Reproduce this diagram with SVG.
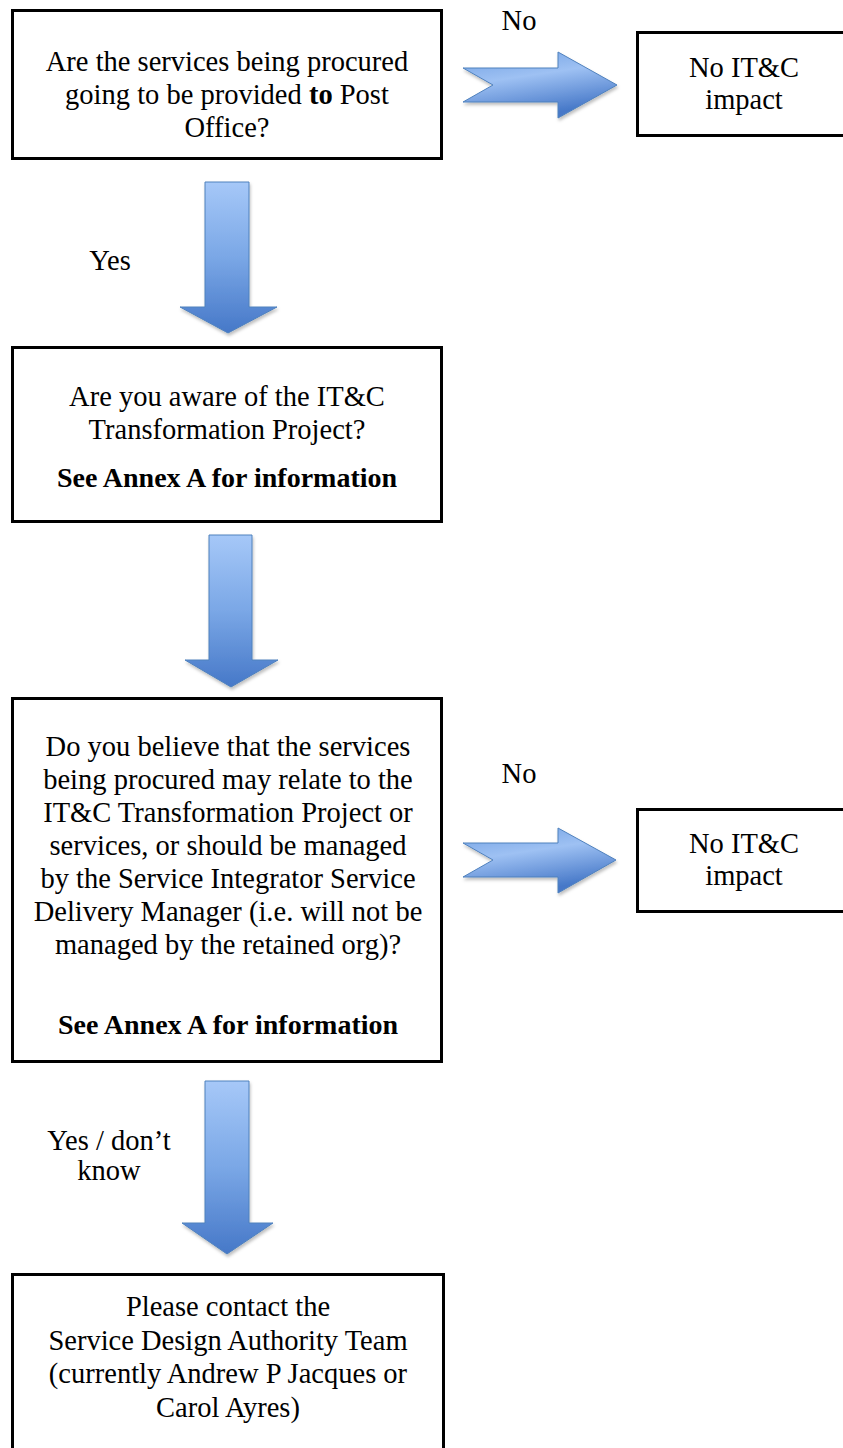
<svg xmlns="http://www.w3.org/2000/svg" width="843" height="1448" viewBox="0 0 843 1448">
<defs>
<linearGradient id="gDown" x1="0" y1="0" x2="0" y2="1">
<stop offset="0" stop-color="#a6c8f8"/>
<stop offset="0.5" stop-color="#7aa7e6"/>
<stop offset="1" stop-color="#4678c8"/>
</linearGradient>
<linearGradient id="gRight" x1="0" y1="0" x2="0.35" y2="1">
<stop offset="0" stop-color="#6f9fe2"/>
<stop offset="0.45" stop-color="#9ec1f3"/>
<stop offset="1" stop-color="#4678c8"/>
</linearGradient>
<filter id="sh" x="-20%" y="-20%" width="140%" height="140%">
<feDropShadow dx="1" dy="2.5" stdDeviation="1.5" flood-color="#000" flood-opacity="0.25"/>
</filter>
</defs>
<style>
.box{fill:#fff;stroke:#000;stroke-width:3}
.t{font-family:"Liberation Serif","Times New Roman",serif;font-size:28.5px;fill:#000;text-anchor:middle}
.b{font-weight:bold;font-size:28px}
.ad{fill:url(#gDown);stroke:#4f81bd;stroke-width:1;filter:url(#sh)}
.ar{fill:url(#gRight);stroke:#4f81bd;stroke-width:1;filter:url(#sh)}
</style>
<rect width="843" height="1448" fill="#fff"/>
<g id="connectors">
<path class="ar" d="M463,68 H558 V52 L617,85 L558,118 V102 H463 L493,85 Z"/>
<path class="ad" d="M205,182 H249 V307 H277 L228,333 L180,307 H205 Z"/>
<path class="ad" d="M209,535 H252 V660 H278 L231,687 L185,660 H209 Z"/>
<path class="ar" d="M463,843 H558 V828 L616,860 L558,893 V877 H463 L493,860 Z"/>
<path class="ad" d="M205,1081 H249 V1223 H273 L227,1254 L182,1223 H205 Z"/>
<text class="t" x="519" y="30">No</text>
<text class="t" x="110" y="270">Yes</text>
<text class="t" x="519" y="783">No</text>
<text class="t" x="109" y="1150">Yes / don’t</text>
<text class="t" x="109" y="1180">know</text>
</g>
<g id="q1">
<rect class="box" x="12.5" y="10.5" width="429" height="148"/>
<text class="t" x="227" y="71">Are the services being procured</text>
<text class="t" x="227" y="104">going to be provided <tspan font-weight="bold">to</tspan> Post</text>
<text class="t" x="227" y="137">Office?</text>
</g>
<g id="noimpact1">
<rect class="box" x="637.5" y="32.5" width="220" height="103"/>
<text class="t" x="744" y="77">No IT&amp;C</text>
<text class="t" x="744" y="109">impact</text>
</g>
<g id="q2">
<rect class="box" x="12.5" y="347.5" width="429" height="174"/>
<text class="t" x="227" y="406">Are you aware of the IT&amp;C</text>
<text class="t" x="227" y="439">Transformation Project?</text>
<text class="t b" x="227" y="487">See Annex A for information</text>
</g>
<g id="q3">
<rect class="box" x="12.5" y="698.5" width="429" height="363"/>
<text class="t" x="228" y="756">Do you believe that the services</text>
<text class="t" x="228" y="789">being procured may relate to the</text>
<text class="t" x="228" y="822">IT&amp;C Transformation Project or</text>
<text class="t" x="228" y="855">services, or should be managed</text>
<text class="t" x="228" y="888">by the Service Integrator Service</text>
<text class="t" x="228" y="921">Delivery Manager (i.e. will not be</text>
<text class="t" x="228" y="954">managed by the retained org)?</text>
<text class="t b" x="228" y="1034">See Annex A for information</text>
</g>
<g id="noimpact2">
<rect class="box" x="637.5" y="809.5" width="220" height="102"/>
<text class="t" x="744" y="853">No IT&amp;C</text>
<text class="t" x="744" y="885">impact</text>
</g>
<g id="contact">
<rect class="box" x="12.5" y="1274.5" width="431" height="200"/>
<text class="t" x="228" y="1316">Please contact the</text>
<text class="t" x="228" y="1350">Service Design Authority Team</text>
<text class="t" x="228" y="1383">(currently Andrew P Jacques or</text>
<text class="t" x="228" y="1417">Carol Ayres)</text>
</g>
</svg>
